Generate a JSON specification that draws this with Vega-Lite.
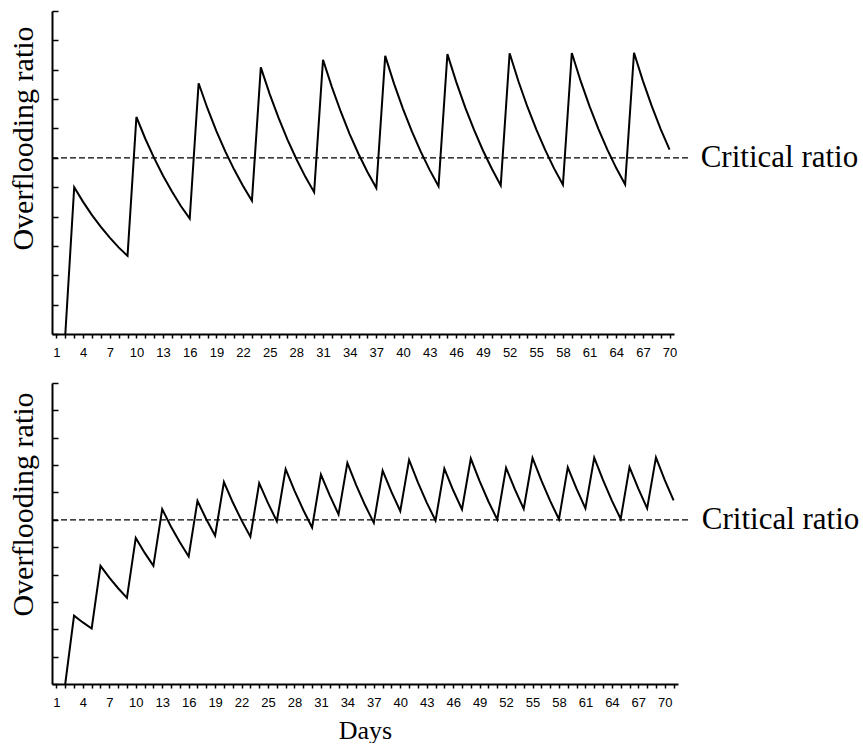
{
  "$schema": "https://vega.github.io/schema/vega-lite/v6.json",
  "padding": {"left": 8, "top": 10, "right": 0, "bottom": 0},
  "background": "white",
  "spacing": 23,
  "config": {
    "view": {"stroke": null},
    "axis": {
      "domainColor": "black",
      "domainWidth": 2,
      "tickColor": "black",
      "tickWidth": 1.5,
      "grid": false,
      "labelFont": "Liberation Sans",
      "labelFontSize": 13,
      "labelColor": "black",
      "titleFont": "Liberation Serif",
      "titleFontWeight": "normal",
      "titleColor": "black"
    }
  },
  "datasets": {
    "top": [
      {"day": 2, "ratio": 0}, {"day": 3, "ratio": 0.5}, {"day": 4, "ratio": 0.45}, {"day": 5, "ratio": 0.405}, {"day": 6, "ratio": 0.365}, {"day": 7, "ratio": 0.328}, {"day": 8, "ratio": 0.295}, {"day": 9, "ratio": 0.266},
      {"day": 10, "ratio": 0.739}, {"day": 11, "ratio": 0.665}, {"day": 12, "ratio": 0.599}, {"day": 13, "ratio": 0.539}, {"day": 14, "ratio": 0.485}, {"day": 15, "ratio": 0.436}, {"day": 16, "ratio": 0.393},
      {"day": 17, "ratio": 0.854}, {"day": 18, "ratio": 0.768}, {"day": 19, "ratio": 0.691}, {"day": 20, "ratio": 0.622}, {"day": 21, "ratio": 0.56}, {"day": 22, "ratio": 0.504}, {"day": 23, "ratio": 0.454},
      {"day": 24, "ratio": 0.908}, {"day": 25, "ratio": 0.817}, {"day": 26, "ratio": 0.736}, {"day": 27, "ratio": 0.662}, {"day": 28, "ratio": 0.596}, {"day": 29, "ratio": 0.536}, {"day": 30, "ratio": 0.483},
      {"day": 31, "ratio": 0.934}, {"day": 32, "ratio": 0.841}, {"day": 33, "ratio": 0.757}, {"day": 34, "ratio": 0.681}, {"day": 35, "ratio": 0.613}, {"day": 36, "ratio": 0.552}, {"day": 37, "ratio": 0.497},
      {"day": 38, "ratio": 0.947}, {"day": 39, "ratio": 0.852}, {"day": 40, "ratio": 0.767}, {"day": 41, "ratio": 0.69}, {"day": 42, "ratio": 0.621}, {"day": 43, "ratio": 0.559}, {"day": 44, "ratio": 0.503},
      {"day": 45, "ratio": 0.953}, {"day": 46, "ratio": 0.858}, {"day": 47, "ratio": 0.772}, {"day": 48, "ratio": 0.695}, {"day": 49, "ratio": 0.625}, {"day": 50, "ratio": 0.563}, {"day": 51, "ratio": 0.506},
      {"day": 52, "ratio": 0.956}, {"day": 53, "ratio": 0.86}, {"day": 54, "ratio": 0.774}, {"day": 55, "ratio": 0.697}, {"day": 56, "ratio": 0.627}, {"day": 57, "ratio": 0.564}, {"day": 58, "ratio": 0.508},
      {"day": 59, "ratio": 0.957}, {"day": 60, "ratio": 0.861}, {"day": 61, "ratio": 0.775}, {"day": 62, "ratio": 0.698}, {"day": 63, "ratio": 0.628}, {"day": 64, "ratio": 0.565}, {"day": 65, "ratio": 0.509},
      {"day": 66, "ratio": 0.958}, {"day": 67, "ratio": 0.862}, {"day": 68, "ratio": 0.776}, {"day": 69, "ratio": 0.698}, {"day": 70, "ratio": 0.628}
    ],
    "bottom": [
      {"day": 2, "ratio": 0}, {"day": 3, "ratio": 0.25}, {"day": 4, "ratio": 0.225}, {"day": 5, "ratio": 0.203}, {"day": 6, "ratio": 0.432}, {"day": 7, "ratio": 0.389}, {"day": 8, "ratio": 0.35}, {"day": 9, "ratio": 0.315},
      {"day": 10, "ratio": 0.534}, {"day": 11, "ratio": 0.48}, {"day": 12, "ratio": 0.432}, {"day": 13, "ratio": 0.639}, {"day": 14, "ratio": 0.575}, {"day": 15, "ratio": 0.518}, {"day": 16, "ratio": 0.466},
      {"day": 17, "ratio": 0.669}, {"day": 18, "ratio": 0.602}, {"day": 19, "ratio": 0.542}, {"day": 20, "ratio": 0.738}, {"day": 21, "ratio": 0.664}, {"day": 22, "ratio": 0.598}, {"day": 23, "ratio": 0.538},
      {"day": 24, "ratio": 0.734}, {"day": 25, "ratio": 0.661}, {"day": 26, "ratio": 0.595}, {"day": 27, "ratio": 0.785}, {"day": 28, "ratio": 0.707}, {"day": 29, "ratio": 0.636}, {"day": 30, "ratio": 0.572},
      {"day": 31, "ratio": 0.765}, {"day": 32, "ratio": 0.689}, {"day": 33, "ratio": 0.62}, {"day": 34, "ratio": 0.808}, {"day": 35, "ratio": 0.727}, {"day": 36, "ratio": 0.654}, {"day": 37, "ratio": 0.589},
      {"day": 38, "ratio": 0.78}, {"day": 39, "ratio": 0.702}, {"day": 40, "ratio": 0.632}, {"day": 41, "ratio": 0.819}, {"day": 42, "ratio": 0.737}, {"day": 43, "ratio": 0.663}, {"day": 44, "ratio": 0.597},
      {"day": 45, "ratio": 0.787}, {"day": 46, "ratio": 0.708}, {"day": 47, "ratio": 0.638}, {"day": 48, "ratio": 0.824}, {"day": 49, "ratio": 0.741}, {"day": 50, "ratio": 0.667}, {"day": 51, "ratio": 0.601},
      {"day": 52, "ratio": 0.79}, {"day": 53, "ratio": 0.711}, {"day": 54, "ratio": 0.64}, {"day": 55, "ratio": 0.826}, {"day": 56, "ratio": 0.744}, {"day": 57, "ratio": 0.669}, {"day": 58, "ratio": 0.602},
      {"day": 59, "ratio": 0.792}, {"day": 60, "ratio": 0.713}, {"day": 61, "ratio": 0.642}, {"day": 62, "ratio": 0.827}, {"day": 63, "ratio": 0.745}, {"day": 64, "ratio": 0.67}, {"day": 65, "ratio": 0.603},
      {"day": 66, "ratio": 0.793}, {"day": 67, "ratio": 0.714}, {"day": 68, "ratio": 0.642}, {"day": 69, "ratio": 0.828}, {"day": 70, "ratio": 0.745}, {"day": 71, "ratio": 0.671}
    ]
  },
  "vconcat": [
    {
      "width": 622,
      "height": 323,
      "resolve": {"axis": {"y": "independent"}},
      "layer": [
        {
          "data": {"name": "top"},
          "mark": {"type": "line", "color": "black", "strokeWidth": 2},
          "encoding": {
            "x": {
              "field": "day", "type": "quantitative",
              "scale": {"domain": [0.5, 70.5], "nice": false, "zero": false},
              "axis": {
                "title": null,
                "values": [1,2,3,4,5,6,7,8,9,10,11,12,13,14,15,16,17,18,19,20,21,22,23,24,25,26,27,28,29,30,31,32,33,34,35,36,37,38,39,40,41,42,43,44,45,46,47,48,49,50,51,52,53,54,55,56,57,58,59,60,61,62,63,64,65,66,67,68,69,70],
                "tickCount": 200,
                "format": "d",
                "labelExpr": "(datum.value - 1) % 3 == 0 ? datum.label : ''",
                "tickSize": 4,
                "labelPadding": 8,
                "labelOverlap": false,
                "labelFlush": false
              }
            },
            "y": {
              "field": "ratio", "type": "quantitative",
              "scale": {"domain": [0, 1.1], "nice": false},
              "axis": {
                "orient": "left",
                "title": "Overflooding ratio",
                "titleFontSize": 30,
                "titlePadding": 14,
                "titleY": 127,
                "labels": false,
                "ticks": false
              }
            }
          }
        },
        {
          "data": {"values": [{"ratio": 0.6, "label": "Critical ratio"}]},
          "mark": {"type": "rule", "color": "black", "strokeWidth": 1.2, "strokeDash": [6, 3], "clip": false},
          "encoding": {
            "x": {"datum": 0.5, "type": "quantitative"},
            "x2": {"datum": 72.2},
            "y": {
              "field": "ratio", "type": "quantitative",
              "axis": {
                "orient": "right",
                "offset": -622,
                "title": null,
                "domain": false,
                "labels": false,
                "ticks": true,
                "tickSize": 6,
                "values": [0, 0.1, 0.2, 0.3, 0.4, 0.5, 0.6, 0.7, 0.8, 0.9, 1.0, 1.1],
                "tickCount": 50
              }
            }
          }
        },
        {
          "data": {"values": [{"ratio": 0.6, "label": "Critical ratio"}]},
          "mark": {"type": "text", "font": "Liberation Serif", "fontSize": 31, "align": "left", "baseline": "middle", "color": "black", "clip": false},
          "encoding": {
            "x": {"datum": 73.5, "type": "quantitative"},
            "y": {"field": "ratio", "type": "quantitative", "axis": null},
            "text": {"field": "label"}
          }
        }
      ]
    },
    {
      "width": 626,
      "height": 301,
      "resolve": {"axis": {"y": "independent"}},
      "layer": [
        {
          "data": {"name": "bottom"},
          "mark": {"type": "line", "color": "black", "strokeWidth": 2},
          "encoding": {
            "x": {
              "field": "day", "type": "quantitative",
              "scale": {"domain": [0.5, 71.5], "nice": false, "zero": false},
              "axis": {
                "title": "Days",
                "titleFontSize": 26,
                "titlePadding": 8,
                "values": [1,2,3,4,5,6,7,8,9,10,11,12,13,14,15,16,17,18,19,20,21,22,23,24,25,26,27,28,29,30,31,32,33,34,35,36,37,38,39,40,41,42,43,44,45,46,47,48,49,50,51,52,53,54,55,56,57,58,59,60,61,62,63,64,65,66,67,68,69,70,71],
                "tickCount": 200,
                "format": "d",
                "labelExpr": "(datum.value - 1) % 3 == 0 ? datum.label : ''",
                "tickSize": 4,
                "labelPadding": 8,
                "labelOverlap": false,
                "labelFlush": false
              }
            },
            "y": {
              "field": "ratio", "type": "quantitative",
              "scale": {"domain": [0, 1.1], "nice": false},
              "axis": {
                "orient": "left",
                "title": "Overflooding ratio",
                "titleFontSize": 30,
                "titlePadding": 14,
                "titleY": 121,
                "labels": false,
                "ticks": false
              }
            }
          }
        },
        {
          "data": {"values": [{"ratio": 0.6, "label": "Critical ratio"}]},
          "mark": {"type": "rule", "color": "black", "strokeWidth": 1.2, "strokeDash": [6, 3], "clip": false},
          "encoding": {
            "x": {"datum": 0.5, "type": "quantitative"},
            "x2": {"datum": 72.9},
            "y": {
              "field": "ratio", "type": "quantitative",
              "axis": {
                "orient": "right",
                "offset": -626,
                "title": null,
                "domain": false,
                "labels": false,
                "ticks": true,
                "tickSize": 6,
                "values": [0, 0.1, 0.2, 0.3, 0.4, 0.5, 0.6, 0.7, 0.8, 0.9, 1.0, 1.1],
                "tickCount": 50
              }
            }
          }
        },
        {
          "data": {"values": [{"ratio": 0.6, "label": "Critical ratio"}]},
          "mark": {"type": "text", "font": "Liberation Serif", "fontSize": 31, "align": "left", "baseline": "middle", "color": "black", "clip": false},
          "encoding": {
            "x": {"datum": 74.2, "type": "quantitative"},
            "y": {"field": "ratio", "type": "quantitative", "axis": null},
            "text": {"field": "label"}
          }
        }
      ]
    }
  ]
}
